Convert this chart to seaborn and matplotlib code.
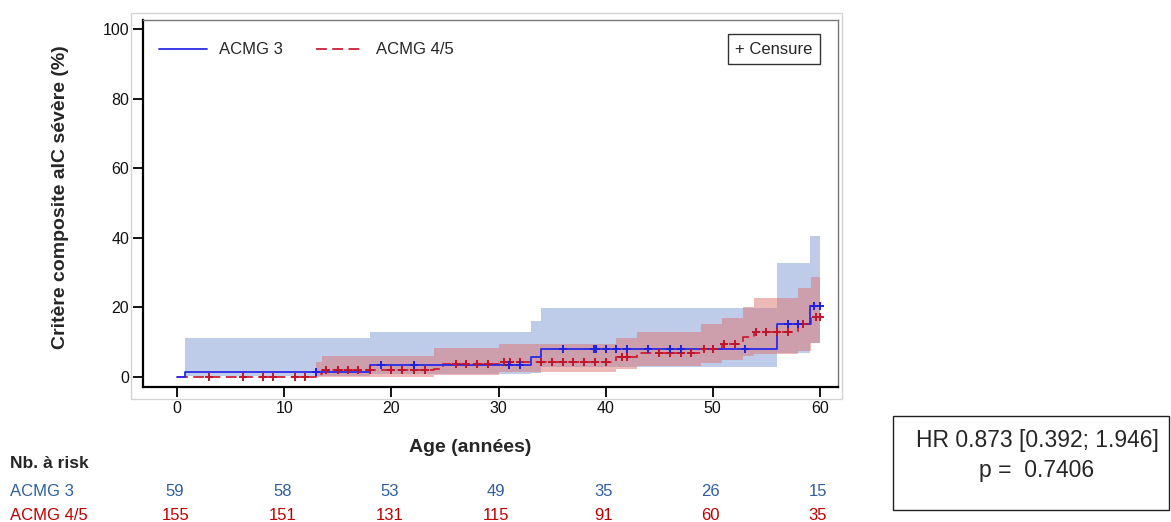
import numpy as np
import pandas as pd
import matplotlib
matplotlib.use("Agg")
import matplotlib.pyplot as plt
import matplotlib.transforms as mtrans
from matplotlib.patches import Rectangle
import seaborn as sns

# ---------------- data ----------------
blue_t = [0, 0.68, 18.0, 33.0, 34.0, 56.0, 59.1]
blue_est = [0, 1.5, 3.4, 5.6, 7.9, 15.2, 20.4]
blue_hi = [0, 11.1, 13.0, 16.2, 19.7, 32.7, 40.5]
blue_lo = [0, 0.2, 0.7, 1.2, 2.9, 7.0, 9.7]
blue_cens = [13.0, 19.0, 22.1, 31.0, 32.0, 36.0, 38.9, 39.1, 40.0, 41.0, 42.0,
             44.0, 46.0, 47.0, 53.0, 57.0, 58.0, 59.5, 60.0]

red_t = [0, 13.0, 13.5, 24.0, 24.8, 30.0, 41.0, 42.9, 48.9, 50.9, 52.8, 53.9, 58.0, 59.2]
red_est = [0, 0.9, 1.9, 2.4, 3.6, 4.3, 5.8, 6.8, 8.0, 9.6, 11.4, 13.0, 15.1, 17.3]
red_hi = [0, 4.4, 6.0, 8.2, 8.2, 9.6, 11.1, 13.0, 15.1, 17.0, 20.0, 22.6, 25.5, 28.8]
red_lo = [0, 0.0, 0.1, 0.5, 0.6, 1.5, 2.2, 3.0, 3.9, 4.9, 6.0, 6.5, 7.5, 9.7]
red_cens = [3.0, 6.1, 8.0, 8.9, 11.0, 11.9, 13.9, 15.0, 15.9, 16.9, 18.0, 20.0, 21.0,
            22.1, 23.1, 26.0, 27.0, 28.0, 29.0, 30.5, 31.1, 32.0, 34.0, 35.0, 36.0,
            37.0, 38.0, 39.0, 40.0, 41.5, 42.0, 45.0, 46.0, 47.0, 48.0, 49.2, 50.0,
            51.1, 52.1, 54.0, 55.0, 56.0, 57.0, 58.4, 59.6, 60.0]
t_end = 60.0

groups = ["ACMG 3", "ACMG 4/5"]
risk_times = [0, 10, 20, 30, 40, 50, 60]
risk_acmg3 = [59, 58, 53, 49, 35, 26, 15]
risk_acmg45 = [155, 151, 131, 115, 91, 60, 35]
hr_text = "HR 0.873 [0.392; 1.946]"
p_text = "p =  0.7406"

xticks = [0, 10, 20, 30, 40, 50, 60]
yticks = [0, 20, 40, 60, 80, 100]

# ---------------- style ----------------
sns.set_theme(style="white")
plt.rcParams['font.family'] = ['Liberation Sans', 'DejaVu Sans']

BLUE_LINE = "#2a2ae6"
RED_LINE = "#cc1f35"
BLUE_FILL = "#6f8fcf"
RED_FILL = "#dc7373"
BLUE_TXT = "#2f5f9c"
RED_TXT = "#c00000"

W, H = 1171, 522
fig = plt.figure(figsize=(W / 100, H / 100), dpi=100)

def fx(px):
    return px / W

def fy(py):
    return 1 - py / H

# outer light border of the plot image
fig.add_artist(Rectangle((fx(131), fy(399)), fx(842) - fx(131), fy(13) - fy(399),
                         transform=fig.transFigure, fill=False, ec="#d4d4d4", lw=1.0))

ax = fig.add_axes([fx(143), fy(387), fx(838) - fx(143), fy(20) - fy(387)])


def extend(t, v):
    return np.array(list(t) + [t_end]), np.array(list(v) + [v[-1]])


def step_value(t, v, q):
    t = np.asarray(t)
    v = np.asarray(v)
    idx = np.searchsorted(t, q, side="right") - 1
    return v[np.clip(idx, 0, len(v) - 1)]


# confidence bands
bx, blo = extend(blue_t, blue_lo)
_, bhi = extend(blue_t, blue_hi)
ax.fill_between(bx, blo, bhi, step="post", color=BLUE_FILL, alpha=0.45, lw=0, zorder=1)
rx, rlo = extend(red_t, red_lo)
_, rhi = extend(red_t, red_hi)
ax.fill_between(rx, rlo, rhi, step="post", color=RED_FILL, alpha=0.5, lw=0, zorder=2)

# step curves
_, bv = extend(blue_t, blue_est)
_, rv = extend(red_t, red_est)
df_b = pd.DataFrame({"t": bx, "v": bv})
df_r = pd.DataFrame({"t": rx, "v": rv})
sns.lineplot(data=df_b, x="t", y="v", ax=ax, color=BLUE_LINE, lw=1.3,
             drawstyle="steps-post", estimator=None, sort=False, label=groups[0], zorder=4)
sns.lineplot(data=df_r, x="t", y="v", ax=ax, color=RED_LINE, lw=1.3,
             linestyle=(0, (6, 3)), drawstyle="steps-post", estimator=None, sort=False,
             label=groups[1], zorder=3)

# censor marks
cb = pd.DataFrame({"t": blue_cens, "v": step_value(blue_t, blue_est, blue_cens)})
cr = pd.DataFrame({"t": red_cens, "v": step_value(red_t, red_est, red_cens)})
sns.scatterplot(data=cr, x="t", y="v", ax=ax, marker="+", s=32, linewidth=1.4,
                color="#c0142a", legend=False, zorder=5)
sns.scatterplot(data=cb, x="t", y="v", ax=ax, marker="+", s=32, linewidth=1.4,
                color="#2020e0", legend=False, zorder=6)

# axes
ax.set_xlim(-3.2, 61.7)
ax.set_ylim(-2.9, 102.6)
ax.set_xticks(xticks)
ax.set_yticks(yticks)
ax.set_xlabel("")
ax.set_ylabel("")
ax.tick_params(axis="both", direction="out", length=7, width=1.3, color="black",
               labelsize=11.5, labelcolor="#111111", pad=3)
ax.tick_params(axis="x", bottom=True)
ax.tick_params(axis="y", left=True)
for s in ["left", "bottom"]:
    ax.spines[s].set_color("black")
    ax.spines[s].set_linewidth(1.6)
for s in ["top", "right"]:
    ax.spines[s].set_color("#777777")
    ax.spines[s].set_linewidth(1.0)
ax.grid(False)

leg = ax.legend(loc="upper left", bbox_to_anchor=(0.001, 0.98), ncol=2, frameon=False,
                handlelength=2.9, columnspacing=2.0, handletextpad=0.7, fontsize=12)

fig.text(fx(774), fy(49), "+ Censure", ha="center", va="center", fontsize=12,
         bbox=dict(boxstyle="square,pad=0.45", fc="white", ec="#333333", lw=1.0))

# axis labels
fig.text(fx(61), fy(197), "Critère composite aIC sévère (%)", rotation=90,
         ha="center", va="center", fontsize=14, fontweight="bold")
fig.text(fx(470), fy(448), "Age (années)", ha="center", va="center",
         fontsize=14, fontweight="bold")

# number at risk table
fig.text(fx(10), fy(463), "Nb. à risk", ha="left", va="center", fontsize=12.5, fontweight="bold")
fig.text(fx(10), fy(492), groups[0], ha="left", va="center", fontsize=12, color=BLUE_TXT)
fig.text(fx(10), fy(515), groups[1], ha="left", va="center", fontsize=12, color=RED_TXT)
trans = mtrans.blended_transform_factory(ax.transData, fig.transFigure)
for t, n3, n45 in zip(risk_times, risk_acmg3, risk_acmg45):
    fig.text(t - 0.2, fy(492), str(n3), transform=trans, ha="center", va="center",
             fontsize=12, color=BLUE_TXT)
    fig.text(t - 0.2, fy(515), str(n45), transform=trans, ha="center", va="center",
             fontsize=12, color=RED_TXT)

# HR box
fig.add_artist(Rectangle((fx(893), fy(510)), fx(1169) - fx(893), fy(416) - fy(510),
                         transform=fig.transFigure, fill=False, ec="#222222", lw=1.0))
fig.text(fx(1037), fy(441), hr_text, ha="center", va="center", fontsize=16.5)
fig.text(fx(1037), fy(471), p_text, ha="center", va="center", fontsize=16.5)

fig.savefig("out.png", dpi=100)
